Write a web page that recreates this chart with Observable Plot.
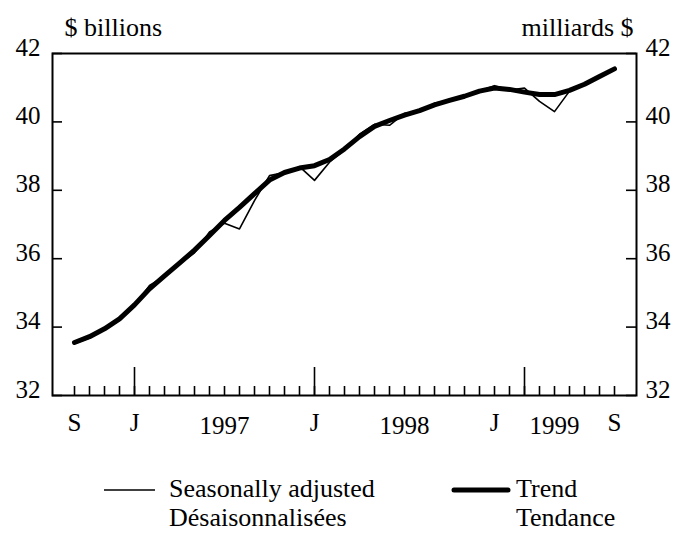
<!DOCTYPE html>
<html><head><meta charset="utf-8">
<script src="https://cdn.jsdelivr.net/npm/d3@7"></script>
<script src="https://cdn.jsdelivr.net/npm/@observablehq/plot@0.6"></script>
<style>
body{margin:0;background:#fff;}
#wrap{position:relative;width:677px;height:533px;font-family:"Liberation Serif","Times New Roman",serif;color:#000;overflow:hidden;}
.lg{position:absolute;font-size:26px;line-height:29px;white-space:nowrap;}
#sw{position:absolute;left:0;top:0;}
</style></head><body><div id="wrap"></div>
<script>
const months = ["1996-09","1996-10","1996-11","1996-12",
  "1997-01","1997-02","1997-03","1997-04","1997-05","1997-06","1997-07","1997-08","1997-09","1997-10","1997-11","1997-12",
  "1998-01","1998-02","1998-03","1998-04","1998-05","1998-06","1998-07","1998-08","1998-09","1998-10","1998-11","1998-12",
  "1999-01","1999-02","1999-03","1999-04","1999-05","1999-06","1999-07","1999-08","1999-09"];
const trend = [33.55, 33.72, 33.95, 34.24, 34.65, 35.12, 35.50, 35.87, 36.25, 36.68, 37.12, 37.50, 37.90, 38.30, 38.52, 38.65,
  38.72, 38.90, 39.21, 39.57, 39.87, 40.04, 40.20, 40.33, 40.50, 40.63, 40.75, 40.90,
  40.99, 40.95, 40.87, 40.80, 40.80, 40.92, 41.10, 41.33, 41.55];
const seasAdj = [33.52, 33.68, 33.93, 34.20, 34.62, 35.22, 35.48, 35.85, 36.17, 36.78, 37.04, 36.87, 37.70, 38.43, 38.52, 38.69,
  38.29, 38.82, 39.18, 39.64, 39.93, 39.90, 40.25, 40.30, 40.55, 40.62, 40.74, 40.90,
  41.06, 40.93, 40.99, 40.60, 40.30, 40.90, 41.10, 41.33, 41.55];
const letterTicks = ["1996-09","1997-01","1998-01","1999-01","1999-09"];
const letterLabels = ["S","J","J","J","S"];
const yearTicks = ["1997-07","1998-07","1999-05"];
const yearLabels = ["1997","1998","1999"];
const majorTicks = ["1997-01","1998-01","1999-03"];
const yTicks = [32,34,36,38,40,42];
const leftTitle = "$ billions";
const rightTitle = "milliards $";
const legendItems = [
  {lines:["Seasonally adjusted","Désaisonnalisées"], width:1.6},
  {lines:["Trend","Tendance"], width:5}
];

const rows = months.map((m,i)=>({month:m, trend:trend[i], sa:seasAdj[i]}));
const W=677,H=533, mL=52, mR=41, mT=53, mB=138;
const fw=W-mL-mR, fh=H-mT-mB;
const FONT = "'Liberation Serif','Times New Roman',serif";

const plot = Plot.plot({
  width:W, height:H, marginLeft:mL, marginRight:mR, marginTop:mT, marginBottom:mB,
  style:{fontFamily:FONT, fontSize:"25px", color:"#000", background:"#fff", overflow:"visible"},
  x:{type:"point", domain:months, padding:1},
  y:{domain:[32,42]},
  marks:[
    Plot.tickY(yTicks,{y:d=>d, insetRight: fw-10, strokeWidth:1.6}),
    Plot.tickY(yTicks,{y:d=>d, insetLeft: fw-10, strokeWidth:1.6}),
    Plot.tickX(months,{x:d=>d, insetTop: fh-9, strokeWidth:1.6}),
    Plot.tickX(majorTicks,{x:d=>d, insetTop: fh-28, strokeWidth:1.6}),
    Plot.axisY({anchor:"left", ticks:yTicks, tickSize:0, tickPadding:12, dy:-6, label:null, fontSize:25}),
    Plot.axisY({anchor:"right", ticks:yTicks, tickSize:0, tickPadding:9, dy:-6, label:null, fontSize:25}),
    Plot.axisX({ticks:letterTicks, tickFormat:d=>letterLabels[letterTicks.indexOf(d)], tickSize:0, tickPadding:18, label:null, fontSize:25}),
    Plot.axisX({ticks:yearTicks, tickFormat:d=>yearLabels[yearTicks.indexOf(d)], tickSize:0, tickPadding:21, label:null, fontSize:25}),
    Plot.frame({strokeWidth:2}),
    Plot.line(rows,{x:"month", y:"sa", strokeWidth:1.6}),
    Plot.line(rows,{x:"month", y:"trend", strokeWidth:5, strokeLinecap:"round", strokeLinejoin:"round"}),
    Plot.text([leftTitle],{text:d=>d, frameAnchor:"top-left", textAnchor:"start", lineAnchor:"bottom", dx:12, dy:-18, fontSize:26}),
    Plot.text([rightTitle],{text:d=>d, frameAnchor:"top-right", textAnchor:"end", lineAnchor:"bottom", dx:-3, dy:-18, fontSize:26})
  ]
});
const wrap = document.getElementById("wrap");
wrap.appendChild(plot);

// legend
const ns="http://www.w3.org/2000/svg";
const sw=document.createElementNS(ns,"svg");
sw.setAttribute("id","sw"); sw.setAttribute("width",W); sw.setAttribute("height",H);
sw.style.pointerEvents="none";
const swX=[[104,155],[454,508]];
legendItems.forEach((it,k)=>{
  const l=document.createElementNS(ns,"line");
  l.setAttribute("x1",swX[k][0]); l.setAttribute("x2",swX[k][1]);
  l.setAttribute("y1",490); l.setAttribute("y2",490);
  l.setAttribute("stroke","#000"); l.setAttribute("stroke-width",it.width);
  if(it.width>2) l.setAttribute("stroke-linecap","round");
  sw.appendChild(l);
  const d=document.createElement("div");
  d.className="lg";
  d.style.left=(k===0?169:516)+"px";
  d.style.top="474px";
  d.innerHTML=it.lines.join("<br>");
  wrap.appendChild(d);
});
wrap.appendChild(sw);
</script></body></html>
